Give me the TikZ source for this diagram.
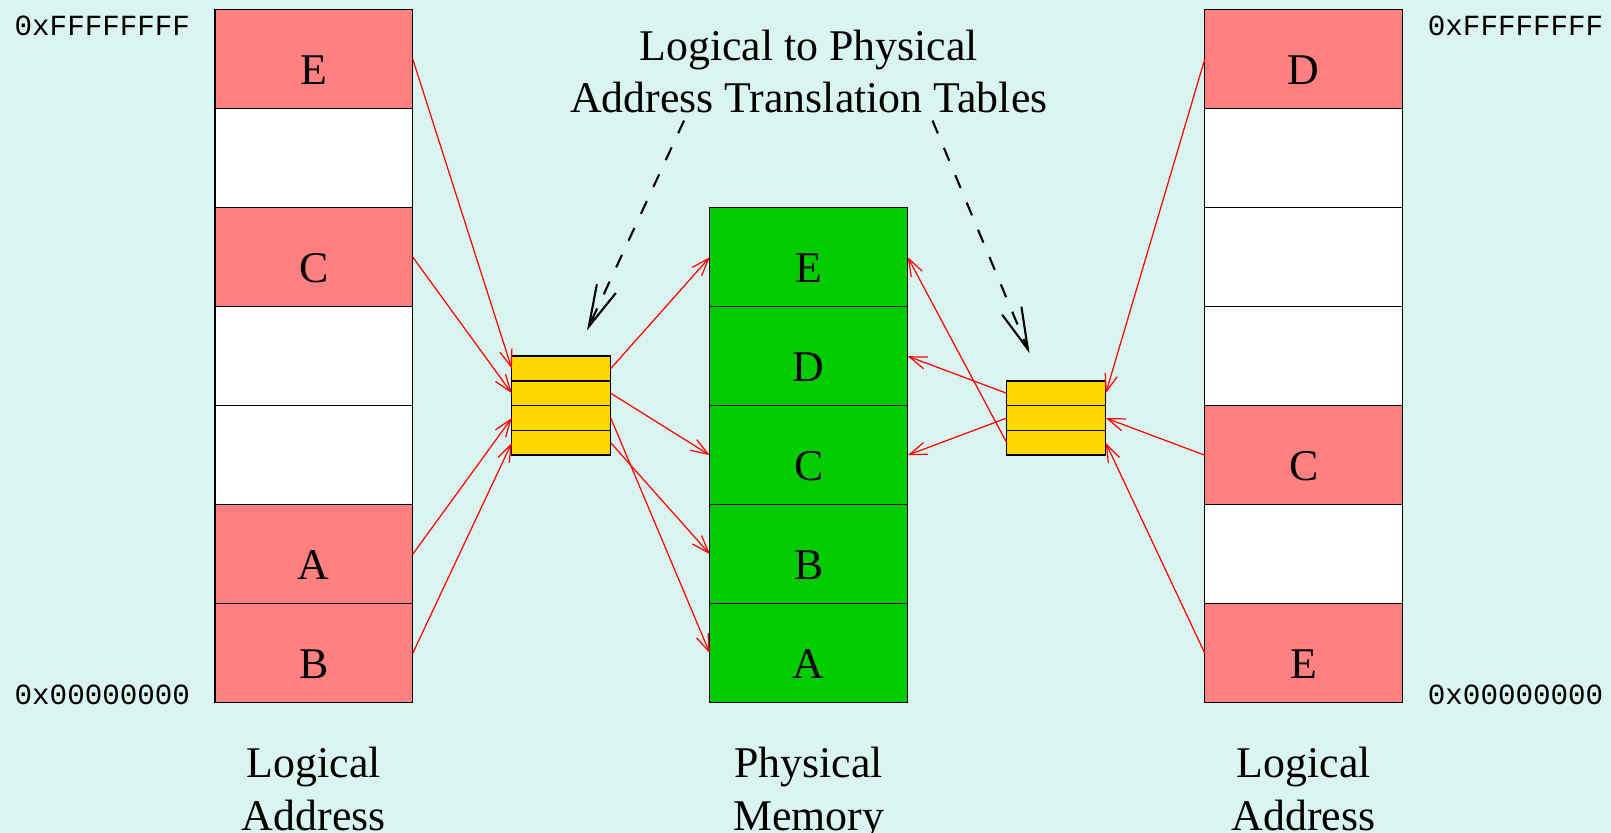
\documentclass[tikz,border=0pt]{standalone}
\usepackage{fontspec}
\setmainfont{Liberation Serif}
\setmonofont{Liberation Mono}
\usetikzlibrary{arrows.meta}
\definecolor{memBack}{HTML}{DAF5F0}
\definecolor{memPink}{HTML}{FF8080}
\definecolor{memGreen}{HTML}{00CC00}
\definecolor{memGold}{HTML}{FFD700}

\begin{document}
\begin{tikzpicture}[
      font=\fontsize{12.6}{15.2}\selectfont,
      cell/.style={draw, fill=#1, minimum width=2cm, minimum height=1cm,
                   inner sep=0pt, outer sep=0pt, text height=14.8pt, text depth=0pt},
      slot/.style={draw, fill=memGold, minimum width=1cm, minimum height=0.25cm,
                   inner sep=0pt, outer sep=0pt},
      addr/.style={font=\fontsize{8.4}{10}\selectfont\ttfamily},
      caption/.style={align=center, inner sep=3pt},
      link/.style={red, line width=0.35pt, -{Straight Barb[length=5pt,width=3.6pt]}},
      pointer/.style={semithick, dash pattern=on 4pt off 4.5pt,
                      -{Straight Barb[length=12pt,width=6pt]}}]
    \fill[memBack] (-2.17,-1.316) rectangle (14.104,7.098);
    \useasboundingbox (-2.17,-1.316) rectangle (14.104,7.098);
    % logical address space, left
    \node[cell=memPink] (lE) at (1,6.5) {E};
    \node[cell=white]   (l6) at (1,5.5) {};
    \node[cell=memPink] (lC) at (1,4.5) {C};
    \node[cell=white]   (l4) at (1,3.5) {};
    \node[cell=white]   (l3) at (1,2.5) {};
    \node[cell=memPink] (lA) at (1,1.5) {A};
    \node[cell=memPink] (lB) at (1,0.5) {B};
    % physical memory
    \node[cell=memGreen] (pE) at (6,4.5) {E};
    \node[cell=memGreen] (pD) at (6,3.5) {D};
    \node[cell=memGreen] (pC) at (6,2.5) {C};
    \node[cell=memGreen] (pB) at (6,1.5) {B};
    \node[cell=memGreen] (pA) at (6,0.5) {A};
    % logical address space, right
    \node[cell=memPink] (rD) at (11,6.5) {D};
    \node[cell=white]   (r6) at (11,5.5) {};
    \node[cell=white]   (r5) at (11,4.5) {};
    \node[cell=white]   (r4) at (11,3.5) {};
    \node[cell=memPink] (rC) at (11,2.5) {C};
    \node[cell=white]   (r2) at (11,1.5) {};
    \node[cell=memPink] (rE) at (11,0.5) {E};
    % translation tables
    \node[slot] (lt1) at (3.5,3.375) {};
    \node[slot] (lt2) at (3.5,3.125) {};
    \node[slot] (lt3) at (3.5,2.875) {};
    \node[slot] (lt4) at (3.5,2.625) {};
    \node[slot] (rt1) at (8.5,3.125) {};
    \node[slot] (rt2) at (8.5,2.875) {};
    \node[slot] (rt3) at (8.5,2.625) {};
    % labels
    \node[addr] (ltop) at (-1.136,6.84) {0xFFFFFFFF};
    \node[addr] (lbot) at (-1.136,0.08) {0x00000000};
    \node[addr] (rtop) at (13.14,6.84) {0xFFFFFFFF};
    \node[addr] (rbot) at (13.14,0.08) {0x00000000};
    \node[caption, anchor=north] (lcap) at (1,-0.34) {Logical\\Address};
    \node[caption, anchor=north] (pcap) at (6,-0.34) {Physical\\Memory};
    \node[caption, anchor=north] (rcap) at (11,-0.34) {Logical\\Address};
    \node[caption, anchor=south] (title) at (6,5.84)
      {Logical to Physical\\Address Translation Tables};
    \coordinate (tipL) at (3.76,3.76);
    \coordinate (tipR) at (8.23,3.53);
    \draw[pointer] ([xshift=-1.26cm,yshift=0.04cm]title.south) -- (tipL);
    \draw[pointer] ([xshift=1.25cm,yshift=0.04cm]title.south) -- (tipR);
    % mappings
    \draw[link] (lE.east) -- (lt1.west);
    \draw[link] (lC.east) -- (lt2.west);
    \draw[link] (lA.east) -- (lt3.west);
    \draw[link] (lB.east) -- (lt4.west);
    \draw[link] (lt1.east) -- (pE.west);
    \draw[link] (lt2.east) -- (pC.west);
    \draw[link] (lt3.east) -- (pA.west);
    \draw[link] (lt4.east) -- (pB.west);
    \draw[link] (rD.west) -- (rt1.east);
    \draw[link] (rC.west) -- (rt2.east);
    \draw[link] (rE.west) -- (rt3.east);
    \draw[link] (rt1.west) -- (pD.east);
    \draw[link] (rt2.west) -- (pC.east);
    \draw[link] (rt3.west) -- (pE.east);
  \end{tikzpicture}
\end{document}
